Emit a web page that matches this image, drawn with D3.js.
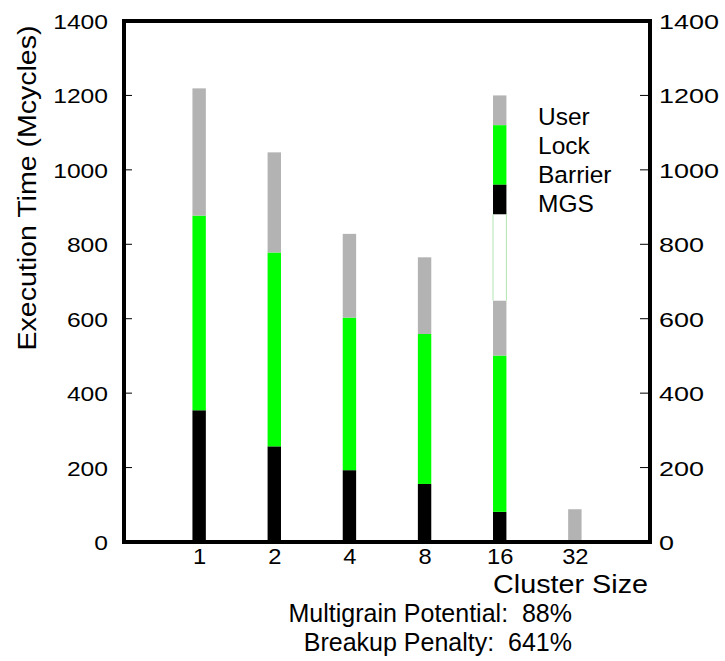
<!DOCTYPE html>
<html>
<head>
<meta charset="utf-8">
<script src="https://cdn.jsdelivr.net/npm/d3@7"></script>
<style>
  html, body { margin: 0; padding: 0; background: #fff; }
  svg { display: block; font-family: "Liberation Sans", Arial, Helvetica, sans-serif; }
</style>
</head>
<body>
<svg id="chart" width="725" height="661"></svg>
<script>
// ---- data ----
const categories = ["1", "2", "4", "8", "16", "32"];
const barrier = [354, 257, 193, 156, 81, 0];
const lock    = [523, 521, 410, 403, 420, 0];
const user    = [342, 269, 225, 206, 148, 88];
const yTicks  = [0, 200, 400, 600, 800, 1000, 1200, 1400];

// legend swatches drawn as a stacked column above the "16" bar
const legendNames = ["User", "Lock", "Barrier", "MGS"];
const legendLow   = [1120, 960, 880, 649];
const legendHigh  = [1200, 1120, 960, 880];
const legendCategory = "16";

const notes = ["Multigrain Potential:  88%", "Breakup Penalty:  641%"];

// ---- layout ----
const colors = { barrier: "#000000", lock: "#00ff00", user: "#b3b3b3" };
const legendColors = ["#b3b3b3", "#00ff00", "#000000", "#ffffff"];
const pL = 124, pR = 650, pT = 21, pB = 542;
const barW = 13.4;
const fmt = d3.format("d");

const svg = d3.select("#chart");

const x = d3.scalePoint().domain(categories).range([pL, pR]).padding(1);
const y = d3.scaleLinear().domain([0, 1400]).range([pB, pT]);

const table = categories.map((c, i) => ({ cat: c, barrier: barrier[i], lock: lock[i], user: user[i] }));
const stack = d3.stack().keys(["barrier", "lock", "user"])(table);

// bars
svg.append("g").selectAll("g").data(stack).join("g")
  .attr("fill", d => colors[d.key])
  .selectAll("rect").data(d => d.filter(s => s[1] - s[0] > 0)).join("rect")
  .attr("x", d => x(d.data.cat) - barW / 2)
  .attr("width", barW)
  .attr("y", d => y(d[1]))
  .attr("height", d => y(d[0]) - y(d[1]));

// legend swatches
const lg = svg.append("g");
legendNames.forEach((n, i) => {
  lg.append("rect")
    .attr("x", x(legendCategory) - barW / 2)
    .attr("width", barW)
    .attr("y", y(legendHigh[i]))
    .attr("height", y(legendLow[i]) - y(legendHigh[i]))
    .attr("fill", legendColors[i]);
});
// faint green edges of the white MGS swatch
const mgsI = legendNames.indexOf("MGS");
[-barW / 2, barW / 2].forEach(dx => {
  lg.append("line")
    .attr("x1", x(legendCategory) + dx).attr("x2", x(legendCategory) + dx)
    .attr("y1", y(legendHigh[mgsI])).attr("y2", y(legendLow[mgsI]))
    .attr("stroke", "#9ee09e").attr("stroke-width", 0.8);
});
legendNames.forEach((n, i) => {
  lg.append("text")
    .attr("x", 538)
    .attr("y", 125 + i * 29)
    .attr("font-size", 24.5)
    .attr("fill", "#000")
    .text(n);
});

// left axis
const yl = svg.append("g").attr("transform", `translate(${pL},0)`)
  .call(d3.axisLeft(y).tickValues(yTicks).tickFormat(fmt).tickSize(0).tickPadding(16));
yl.select(".domain").remove();
yl.selectAll("text")
  .attr("font-size", 21)
  .attr("font-family", "Liberation Sans, Arial, sans-serif")
  .attr("fill", "#000")
  .attr("dy", "0.36em")
  .attr("textLength", d => fmt(d).length * 13.7)
  .attr("lengthAdjust", "spacingAndGlyphs");
// inward tick marks on left
svg.append("g").selectAll("line").data(yTicks.slice(1, -1)).join("line")
  .attr("x1", pL).attr("x2", pL + 8)
  .attr("y1", d => y(d)).attr("y2", d => y(d))
  .attr("stroke", "#000").attr("stroke-width", 1);

// right axis
const yr = svg.append("g").attr("transform", `translate(${pR},0)`)
  .call(d3.axisRight(y).tickValues(yTicks).tickFormat(fmt).tickSize(0).tickPadding(9));
yr.select(".domain").remove();
yr.selectAll("text")
  .attr("font-size", 21)
  .attr("font-family", "Liberation Sans, Arial, sans-serif")
  .attr("fill", "#000")
  .attr("dy", "0.36em")
  .attr("textLength", d => fmt(d).length * 15)
  .attr("lengthAdjust", "spacingAndGlyphs");
svg.append("g").selectAll("line").data(yTicks.slice(1, -1)).join("line")
  .attr("x1", pR - 10).attr("x2", pR)
  .attr("y1", d => y(d)).attr("y2", d => y(d))
  .attr("stroke", "#000").attr("stroke-width", 1);

// bottom axis labels
const xa = svg.append("g").attr("transform", `translate(0,${pB})`)
  .call(d3.axisBottom(x).tickSize(0).tickPadding(7));
xa.select(".domain").remove();
xa.selectAll("text")
  .attr("font-size", 21.5)
  .attr("font-family", "Liberation Sans, Arial, sans-serif")
  .attr("fill", "#000")
  .attr("dy", "0.71em")
  .attr("textLength", d => String(d).length * 13.2)
  .attr("lengthAdjust", "spacingAndGlyphs");

// frame
svg.append("rect")
  .attr("x", pL).attr("y", pT)
  .attr("width", pR - pL).attr("height", pB - pT)
  .attr("fill", "none").attr("stroke", "#000").attr("stroke-width", 4);

// axis titles
svg.append("text")
  .attr("transform", "translate(36,188) rotate(-90)")
  .attr("text-anchor", "middle")
  .attr("font-size", 26)
  .attr("textLength", 325)
  .attr("lengthAdjust", "spacingAndGlyphs")
  .text("Execution Time (Mcycles)");

svg.append("text")
  .attr("x", 493).attr("y", 593)
  .attr("font-size", 26)
  .attr("textLength", 155)
  .attr("lengthAdjust", "spacingAndGlyphs")
  .text("Cluster Size");

notes.forEach((t, i) => {
  svg.append("text")
    .attr("x", 572).attr("y", 622 + i * 29)
    .attr("text-anchor", "end")
    .attr("font-size", 25)
    .style("white-space", "pre")
    .text(t);
});
</script>
</body>
</html>
